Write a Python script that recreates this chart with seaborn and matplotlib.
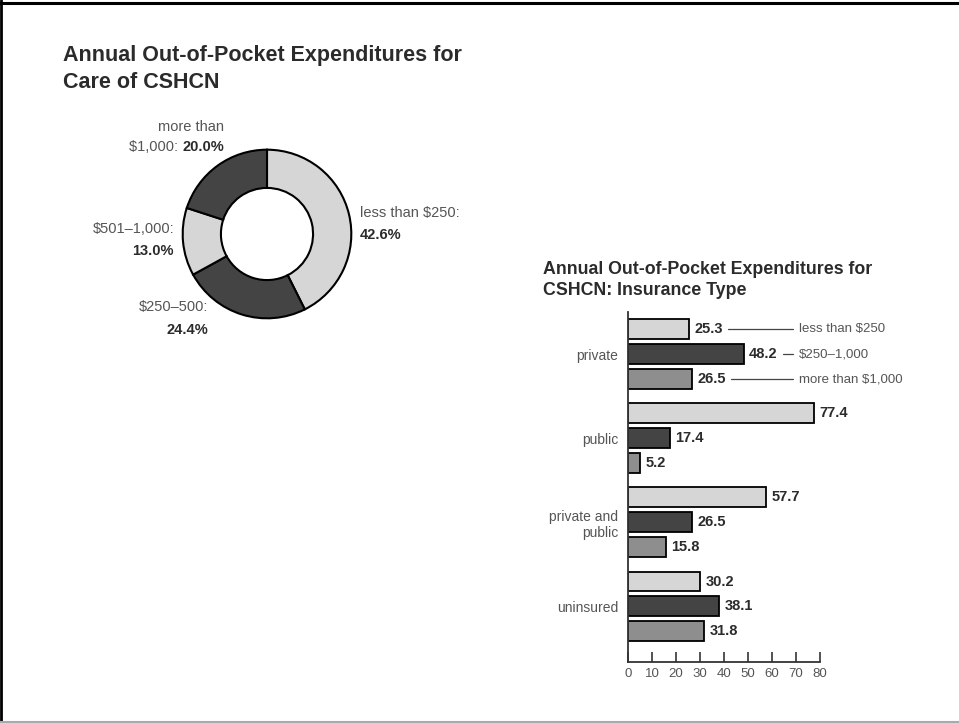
import matplotlib
matplotlib.use("Agg")
import matplotlib.pyplot as plt
from matplotlib.lines import Line2D
import seaborn as sns
import pandas as pd

# ---------------- data ----------------
donut_labels = ["less than $250", "$250\u2013500", "$501\u20131,000", "more than $1,000"]
donut_values = [42.6, 24.4, 13.0, 20.0]

insurance_types = ["private", "public", "private and\npublic", "uninsured"]
spend_levels = ["less than $250", "$250\u20131,000", "more than $1,000"]
less_250 = [25.3, 77.4, 57.7, 30.2]
mid_250_1000 = [48.2, 17.4, 26.5, 38.1]
more_1000 = [26.5, 5.2, 15.8, 31.8]
x_ticks = [0, 10, 20, 30, 40, 50, 60, 70, 80]

sns.set_theme(style="white")
FONT = ["Liberation Sans", "DejaVu Sans"]
plt.rcParams["font.family"] = FONT

W, H = 959, 723
fig = plt.figure(figsize=(W / 100, H / 100), dpi=100)

def fx(px):
    return px / W

def fy(py):
    return 1 - py / H

TITLE_C = "#2b2b2b"
TEXT_C = "#555555"
LIGHT = "#d6d6d6"
DARK = "#444444"
MED = "#8e8e8e"

# ---------------- border ----------------
fig.add_artist(Line2D([0, 1], [fy(3), fy(3)], color="black", lw=2.2, transform=fig.transFigure))
fig.add_artist(Line2D([fx(1.2), fx(1.2)], [0, 1], color="black", lw=2.0, transform=fig.transFigure))
fig.add_artist(Line2D([0, 1], [fy(721.5), fy(721.5)], color="#aaaaaa", lw=1.5, transform=fig.transFigure))

# ---------------- titles ----------------
fig.text(fx(63), fy(88), "Annual Out-of-Pocket Expenditures for\nCare of CSHCN",
         fontsize=15.5, fontweight="bold", color=TITLE_C, ha="left", va="baseline",
         linespacing=1.4)
fig.text(fx(543), fy(295), "Annual Out-of-Pocket Expenditures for\nCSHCN: Insurance Type",
         fontsize=12.8, fontweight="bold", color=TITLE_C, ha="left", va="baseline",
         linespacing=1.3)

# ---------------- donut ----------------
cx, cy, r = 267, 234, 86
axp = fig.add_axes([fx(cx - r), fy(cy + r), 2 * r / W, 2 * r / H])
axp.pie(donut_values, colors=[LIGHT, DARK, LIGHT, DARK], startangle=90, counterclock=False,
        radius=1.0, wedgeprops=dict(width=1 - 47 / 86, edgecolor="black", linewidth=1.5))
axp.set_xlim(-1.02, 1.02)
axp.set_ylim(-1.02, 1.02)
axp.set_aspect("equal")
axp.axis("off")

LBL = 10.5

def mixed(xr, y, normal, bold):
    t = fig.text(fx(xr), fy(y), bold, fontsize=LBL, fontweight="bold", color=TITLE_C,
                 ha="right", va="center")
    ann = matplotlib.text.Annotation(normal, xy=(0, 0.5), xycoords=t, ha="right", va="center",
                                     fontsize=LBL, color=TEXT_C)
    fig.add_artist(ann)

fig.text(fx(224), fy(127), "more than", fontsize=LBL, color=TEXT_C, ha="right", va="center")
mixed(224, 147, "$1,000: ", f"{donut_values[3]:.1f}%")
fig.text(fx(360), fy(213), "less than $250:", fontsize=LBL, color=TEXT_C, ha="left", va="center")
fig.text(fx(360), fy(235), f"{donut_values[0]:.1f}%", fontsize=LBL, fontweight="bold",
         color=TITLE_C, ha="left", va="center")
fig.text(fx(174), fy(229), "$501\u20131,000:", fontsize=LBL, color=TEXT_C, ha="right", va="center")
fig.text(fx(174), fy(251), f"{donut_values[2]:.1f}%", fontsize=LBL, fontweight="bold",
         color=TITLE_C, ha="right", va="center")
fig.text(fx(208), fy(307), "$250\u2013500:", fontsize=LBL, color=TEXT_C, ha="right", va="center")
fig.text(fx(208), fy(330), f"{donut_values[1]:.1f}%", fontsize=LBL, fontweight="bold",
         color=TITLE_C, ha="right", va="center")

# ---------------- bar chart ----------------
df = pd.DataFrame({
    "type": insurance_types * 3,
    "level": [spend_levels[0]] * 4 + [spend_levels[1]] * 4 + [spend_levels[2]] * 4,
    "value": less_250 + mid_250_1000 + more_1000,
})

axb = fig.add_axes([fx(628), fy(662), 192 / W, 350 / H])
sns.barplot(data=df, y="type", x="value", hue="level", order=insurance_types,
            hue_order=spend_levels, palette=[LIGHT, DARK, MED], orient="h",
            width=0.89, gap=0.2, edgecolor="black", linewidth=1.3, legend=False, ax=axb,
            errorbar=None, saturation=1)
axb.set_xlim(0, 80)
axb.set_ylim(3.66, -0.5)
axb.set_xlabel("")
axb.set_ylabel("")
for s in ["top", "right"]:
    axb.spines[s].set_visible(False)
for s in ["left", "bottom"]:
    axb.spines[s].set_visible(True)
    axb.spines[s].set_color("#333333")
    axb.spines[s].set_linewidth(1.3)
axb.set_xticks(x_ticks)
axb.set_xticklabels([str(t) for t in x_ticks], fontsize=9.5, color=TEXT_C)
axb.tick_params(axis="x", direction="in", length=7, width=1.2, color="#333333", pad=4,
                bottom=True)
axb.tick_params(axis="y", length=0, pad=7, labelsize=10, labelcolor=TEXT_C)
for lab in axb.get_yticklabels():
    lab.set_horizontalalignment("right")
    lab.set_multialignment("right")

for cont in axb.containers:
    axb.bar_label(cont, fmt="%.1f", padding=4, fontsize=10.5, fontweight="bold", color=TITLE_C)

# legend lines for the private group
first = [c[0] for c in axb.containers]
for i, patch in enumerate(first):
    yc = patch.get_y() + patch.get_height() / 2
    val = patch.get_width()
    axb.plot([val + 16.3, 68.8], [yc, yc], color="#444444", lw=0.9, clip_on=False)
    axb.text(71.3, yc, spend_levels[i], fontsize=9.5, color=TEXT_C, ha="left", va="center",
             clip_on=False)

fig.savefig("out.png", dpi=100)
